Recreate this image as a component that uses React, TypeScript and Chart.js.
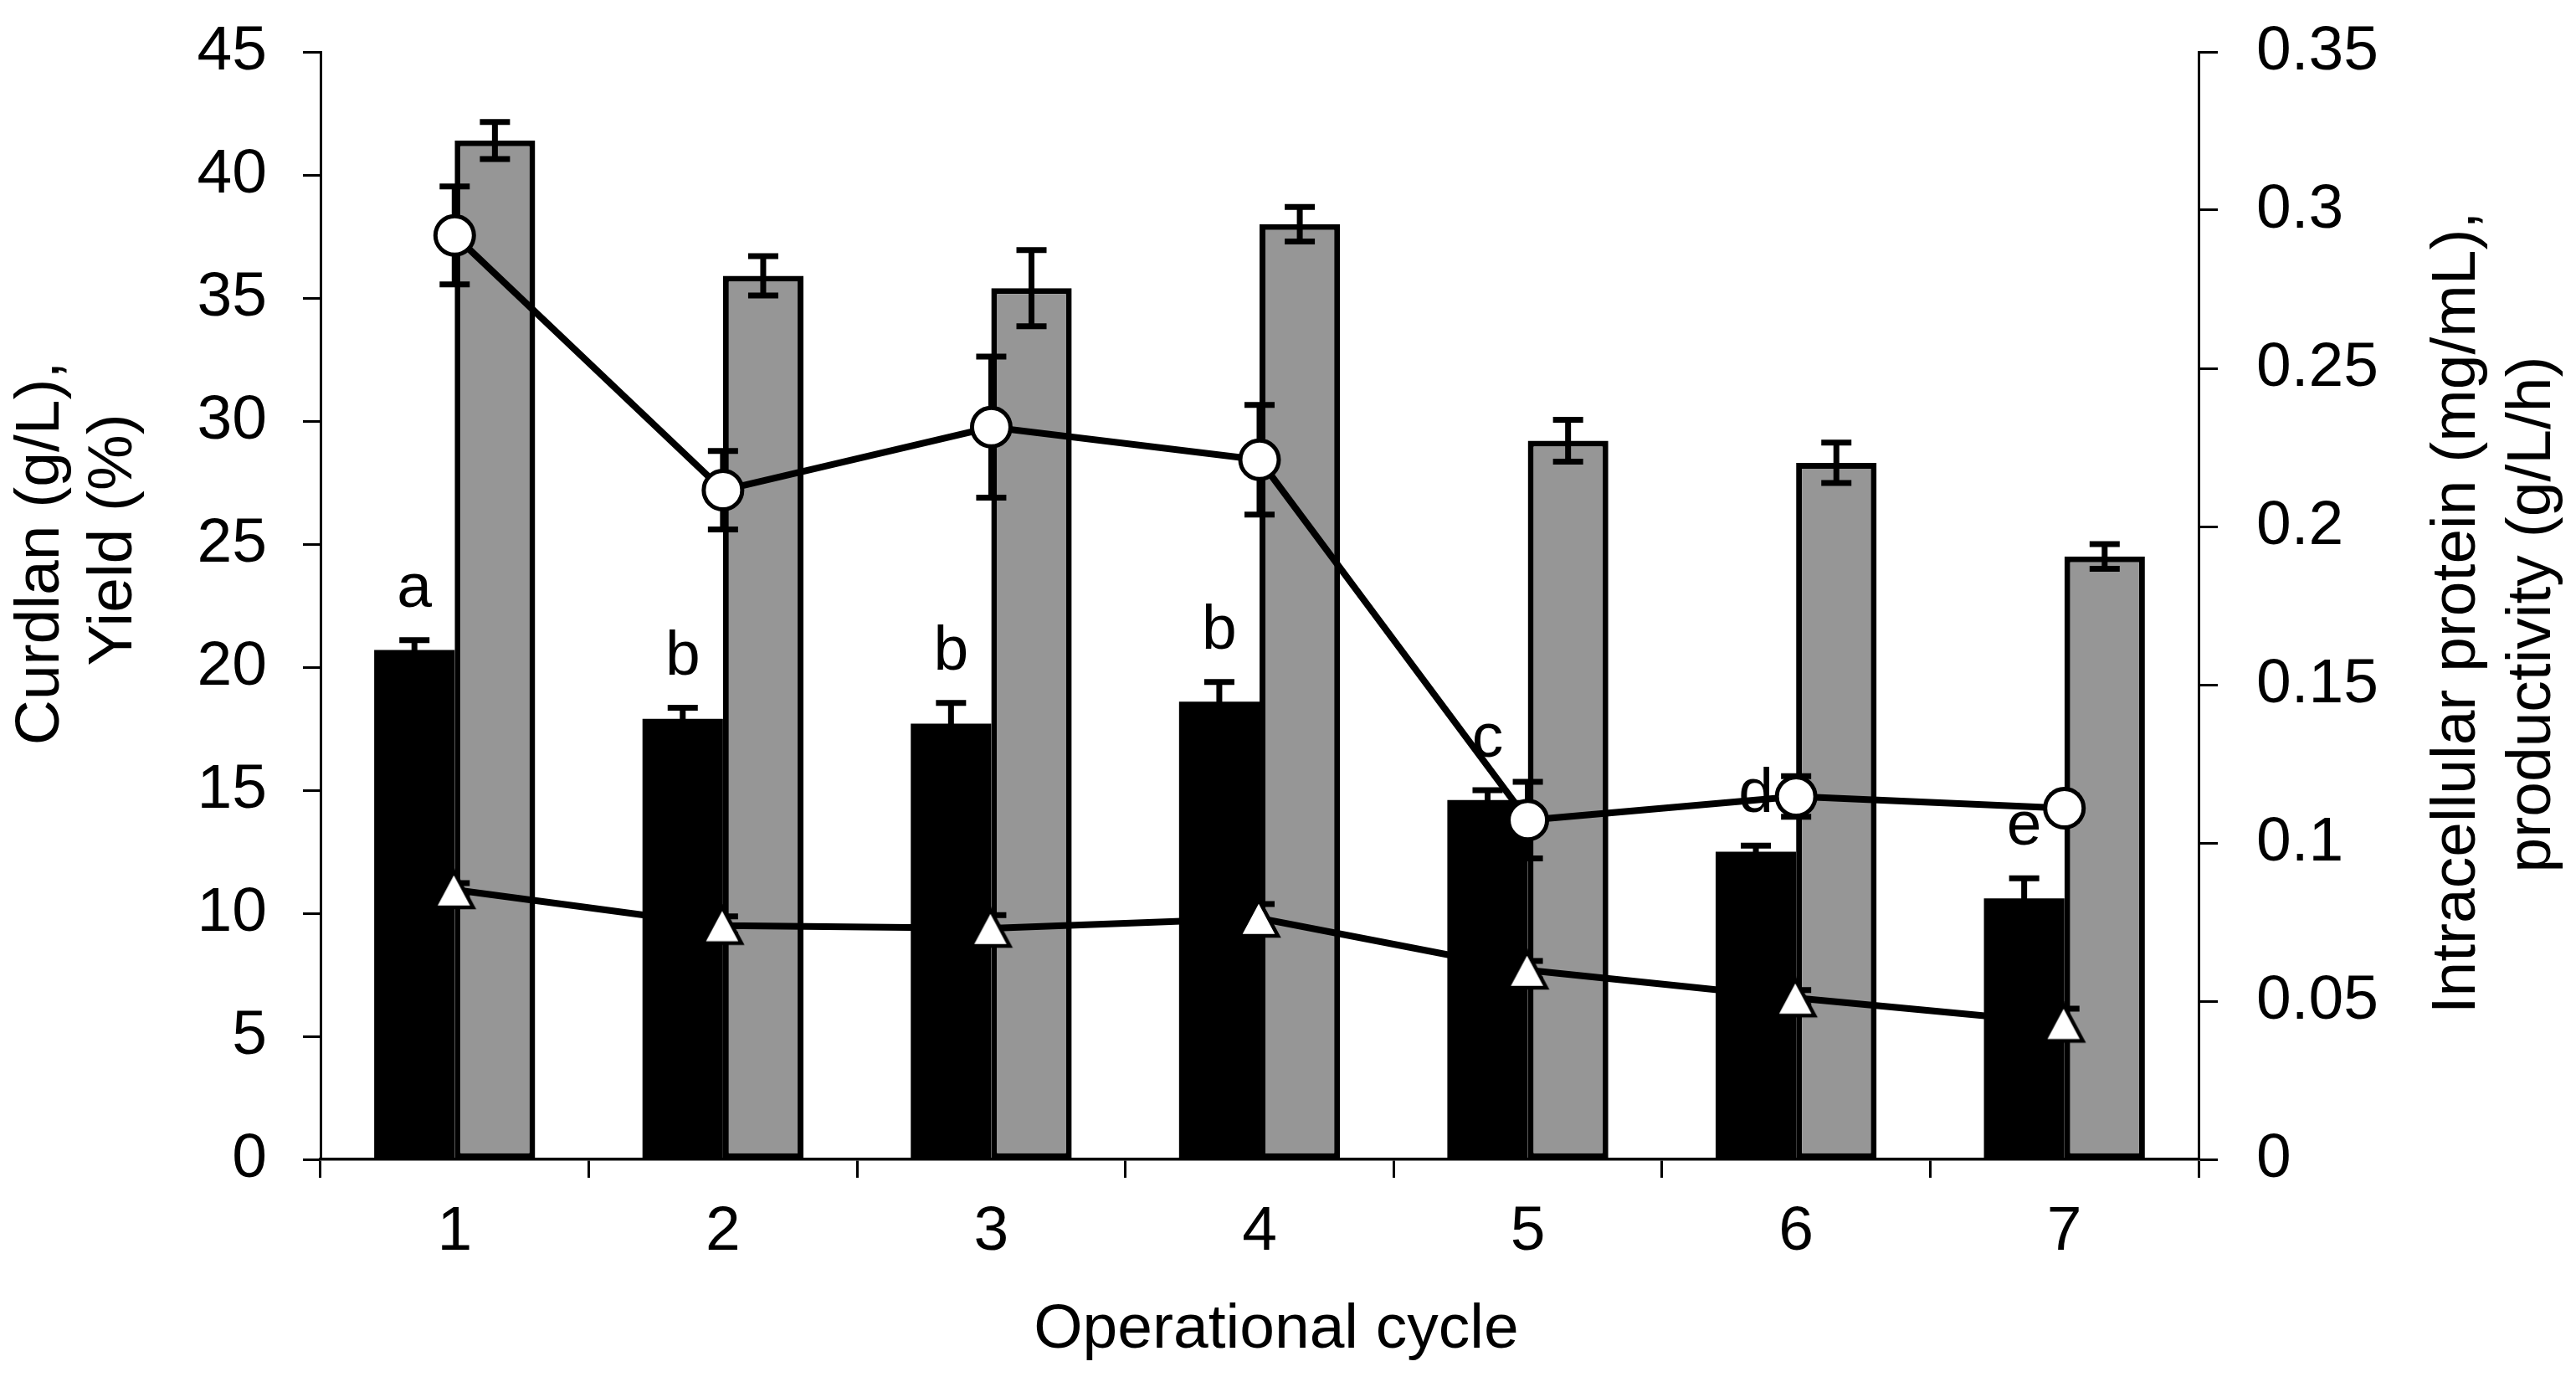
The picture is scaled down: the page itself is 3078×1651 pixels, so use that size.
import React, { useEffect, useRef } from 'react';
import { Chart, registerables } from 'chart.js';

Chart.register(...registerables);

// ---- data ----
const categories = ['1', '2', '3', '4', '5', '6', '7'];
const curdlan = [20.7, 17.9, 17.7, 18.6, 14.6, 12.5, 10.6];
const curdlanErr = [0.4, 0.45, 0.85, 0.8, 0.4, 0.25, 0.82];
const yieldPct = [41.4, 35.9, 35.4, 38.0, 29.2, 28.3, 24.5];
const yieldErr = [0.75, 0.8, 1.55, 0.7, 0.85, 0.82, 0.5];
const productivity = [0.292, 0.2115, 0.2314, 0.2211, 0.1072, 0.1147, 0.111];
const productivityErr = [0.0155, 0.0124, 0.0223, 0.0173, 0.0121, 0.0064, 0.004];
const protein = [0.0852, 0.0739, 0.073, 0.0762, 0.0598, 0.051, 0.043];
const proteinErr = [0.0021, 0.0029, 0.0042, 0.0045, 0.0029, 0.0025, 0.0046];
const letters = ['a', 'b', 'b', 'b', 'c', 'd', 'e'];
const leftTickLabels = ['0', '5', '10', '15', '20', '25', '30', '35', '40', '45'];
const rightTickLabels = ['0', '0.05', '0.1', '0.15', '0.2', '0.25', '0.3', '0.35'];
const xTitle = 'Operational cycle';
const leftTitle = ['Curdlan (g/L),', 'Yield (%)'];
const rightTitle = ['Intracellular protein (mg/mL),', 'productivity (g/L/h)'];

const FONT = "'Liberation Sans', Arial, Helvetica, sans-serif";
const FS = 75;

function makeTriangle(): HTMLCanvasElement {
  const c = document.createElement('canvas');
  c.width = 56;
  c.height = 52;
  const g = c.getContext('2d')!;
  g.beginPath();
  g.moveTo(27, 4);
  g.lineTo(50, 47);
  g.lineTo(4, 47);
  g.closePath();
  g.fillStyle = '#ffffff';
  g.fill();
  g.lineWidth = 4.5;
  g.lineJoin = 'miter';
  g.strokeStyle = '#000000';
  g.stroke();
  return c;
}

export default function App() {
  const ref = useRef<HTMLCanvasElement>(null);

  useEffect(() => {
    const canvas = ref.current!;
    const tri = makeTriangle();
    const errs: Record<number, number[]> = {
      0: curdlanErr,
      1: yieldErr,
      2: productivityErr,
      3: proteinErr,
    };

    const drawErr = (chart: any, index: number) => {
      const ctx = chart.ctx as CanvasRenderingContext2D;
      const meta = chart.getDatasetMeta(index);
      const data = chart.data.datasets[index].data as number[];
      const scale = chart.scales[meta.yAxisID];
      const e = errs[index];
      if (!e) return;
      ctx.save();
      ctx.strokeStyle = '#000';
      ctx.lineWidth = 7;
      ctx.lineCap = 'butt';
      meta.data.forEach((el: any, j: number) => {
        const x = el.x;
        const yT = scale.getPixelForValue(data[j] + e[j]);
        const yB = scale.getPixelForValue(data[j] - e[j]);
        ctx.beginPath();
        ctx.moveTo(x, yT);
        ctx.lineTo(x, yB);
        ctx.moveTo(x - 18, yT);
        ctx.lineTo(x + 18, yT);
        ctx.moveTo(x - 18, yB);
        ctx.lineTo(x + 18, yB);
        ctx.stroke();
      });
      ctx.restore();
    };

    const errPlugin = {
      id: 'errbars',
      afterDatasetDraw(chart: any, args: any) {
        if (args.index === 0 || args.index === 1) drawErr(chart, args.index);
      },
      beforeDatasetDraw(chart: any, args: any) {
        if (args.index === 2 || args.index === 3) drawErr(chart, args.index);
      },
    };

    const textPlugin = {
      id: 'texts',
      afterDraw(chart: any) {
        const ctx = chart.ctx as CanvasRenderingContext2D;
        ctx.save();
        ctx.fillStyle = '#000';
        ctx.font = `${FS}px ${FONT}`;
        ctx.textAlign = 'center';
        ctx.textBaseline = 'alphabetic';
        // significance letters above black bars
        const meta = chart.getDatasetMeta(0);
        const ys = chart.scales.y;
        meta.data.forEach((el: any, j: number) => {
          const yTop = ys.getPixelForValue(curdlan[j] + curdlanErr[j]);
          ctx.fillText(letters[j], el.x, yTop - 40);
        });
        // x title
        ctx.fillText(xTitle, 1525, 1610);
        // left title (rotated)
        const leftPos = [
          { x: 70, y: 661 },
          { x: 157, y: 645 },
        ];
        leftTitle.forEach((t, i) => {
          ctx.save();
          ctx.translate(leftPos[i].x, leftPos[i].y);
          ctx.rotate(-Math.PI / 2);
          ctx.fillText(t, 0, 0);
          ctx.restore();
        });
        // right title (rotated, reading bottom-to-top)
        const rightPos = [
          { x: 2957, y: 732 },
          { x: 3047, y: 734 },
        ];
        rightTitle.forEach((t, i) => {
          ctx.save();
          ctx.translate(rightPos[i].x, rightPos[i].y);
          ctx.rotate(-Math.PI / 2);
          ctx.fillText(t, 0, 0);
          ctx.restore();
        });
        ctx.restore();
      },
    };

    const chart = new Chart(canvas, {
      type: 'bar',
      data: {
        labels: categories,
        datasets: [
          {
            label: 'Curdlan (g/L)',
            data: curdlan,
            backgroundColor: '#000000',
            borderWidth: 0,
            yAxisID: 'y',
            order: 2,
          } as any,
          {
            label: 'Yield (%)',
            data: yieldPct,
            backgroundColor: '#969696',
            borderColor: '#000000',
            borderWidth: 7,
            borderSkipped: false,
            yAxisID: 'y',
            order: 2,
          } as any,
          {
            type: 'line',
            label: 'Productivity (g/L/h)',
            data: productivity,
            yAxisID: 'y1',
            borderColor: '#000000',
            borderWidth: 8,
            pointStyle: 'circle',
            pointRadius: 23,
            pointBorderWidth: 5,
            pointBackgroundColor: '#ffffff',
            pointBorderColor: '#000000',
            order: 1,
            clip: false,
          } as any,
          {
            type: 'line',
            label: 'Intracellular protein (mg/mL)',
            data: protein,
            yAxisID: 'y1',
            borderColor: '#000000',
            borderWidth: 8,
            pointStyle: tri,
            pointRadius: 22,
            order: 1,
            clip: false,
          } as any,
        ],
      },
      options: {
        animation: false,
        responsive: false,
        maintainAspectRatio: false,
        events: [],
        layout: { padding: { top: 62, left: 0, right: 0, bottom: 0 } },
        plugins: {
          legend: { display: false },
          tooltip: { enabled: false },
          title: { display: false },
        },
        datasets: {
          bar: { categoryPercentage: 0.6, barPercentage: 1.0 },
        },
        scales: {
          x: {
            type: 'category',
            offset: true,
            grid: {
              display: true,
              offset: true,
              drawOnChartArea: false,
              drawTicks: true,
              tickLength: 22,
              tickWidth: 3,
              tickColor: '#000',
            },
            border: { display: true, color: '#000', width: 3.5 },
            ticks: {
              color: '#000',
              font: { family: FONT, size: FS },
              padding: 20,
              maxRotation: 0,
              autoSkip: false,
            },
            afterFit: (s: any) => {
              s.height = 266;
              s.paddingLeft = 0;
              s.paddingRight = 0;
            },
          },
          y: {
            type: 'linear',
            position: 'left',
            min: 0,
            max: 45,
            grid: {
              display: true,
              drawOnChartArea: false,
              drawTicks: true,
              tickLength: 21,
              tickWidth: 3,
              tickColor: '#000',
            },
            border: { display: true, color: '#000', width: 3 },
            ticks: {
              stepSize: 5,
              color: '#000',
              font: { family: FONT, size: FS },
              padding: 43,
              callback: (_v: any, i: number) => leftTickLabels[i],
            },
            afterFit: (s: any) => {
              s.width = 383;
              s.paddingTop = 0;
              s.paddingBottom = 0;
            },
          },
          y1: {
            type: 'linear',
            position: 'right',
            min: 0,
            max: 0.35,
            grid: {
              display: true,
              drawOnChartArea: false,
              drawTicks: true,
              tickLength: 23,
              tickWidth: 3,
              tickColor: '#000',
            },
            border: { display: true, color: '#000', width: 3 },
            ticks: {
              stepSize: 0.05,
              color: '#000',
              font: { family: FONT, size: FS },
              padding: 46,
              callback: (_v: any, i: number) => rightTickLabels[i],
            },
            afterFit: (s: any) => {
              s.width = 451;
              s.paddingTop = 0;
              s.paddingBottom = 0;
            },
          },
        },
      },
      plugins: [errPlugin, textPlugin],
    });

    return () => {
      chart.destroy();
    };
  }, []);

  return (
    <div style={{ position: 'absolute', left: 0, top: 0, width: 3078, height: 1651, background: '#fff' }}>
      <canvas ref={ref} width={3078} height={1651} style={{ width: 3078, height: 1651, display: 'block' }} />
    </div>
  );
}
